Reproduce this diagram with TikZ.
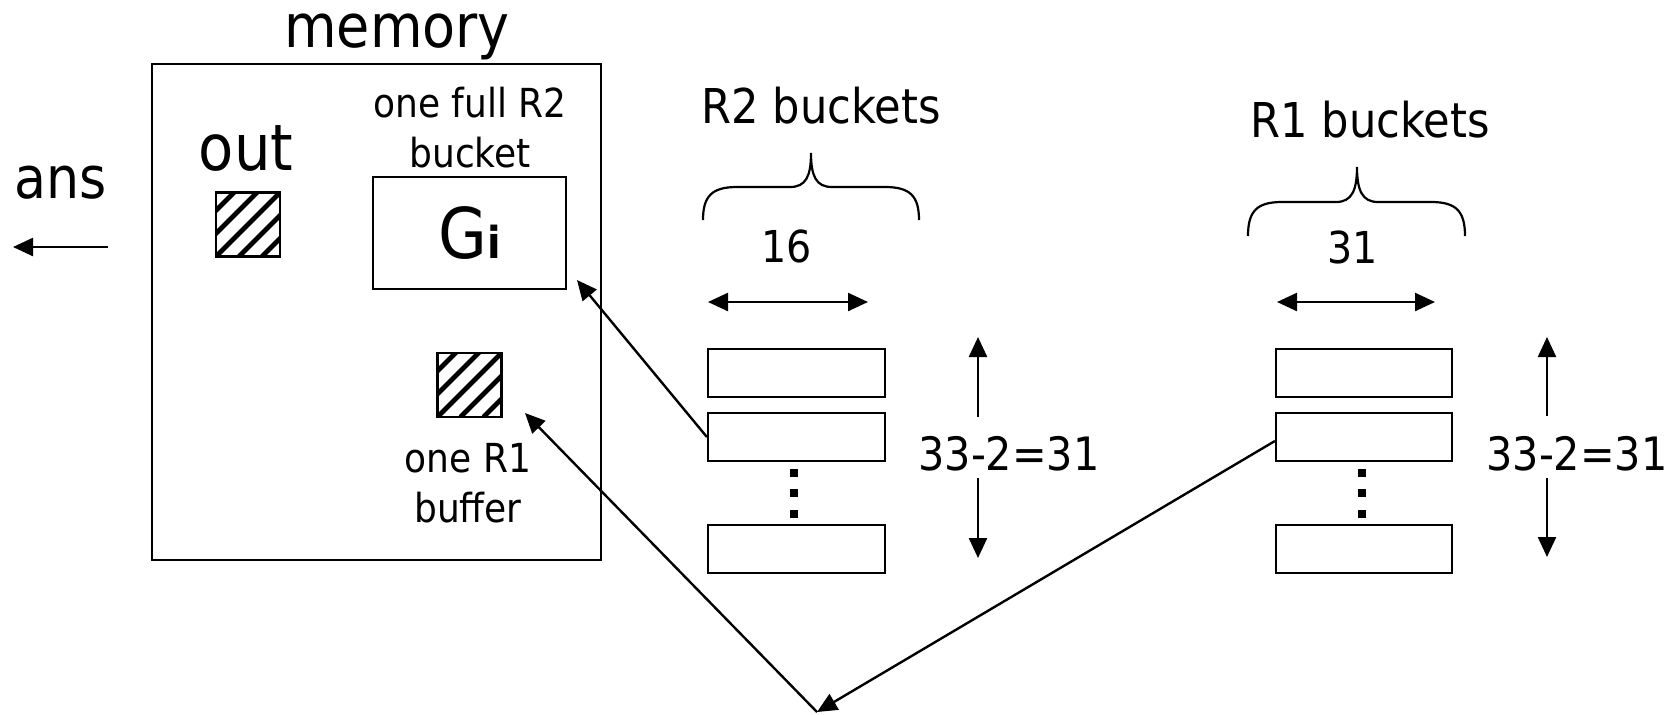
\documentclass[tikz,border=0pt]{standalone}
\usepackage{fontspec}
\setmainfont{DejaVu Sans Condensed}
\usetikzlibrary{arrows.meta}
\tikzset{
  px/.style={x=0.5pt,y=-0.5pt},
  boxline/.style={draw,line width=1.1pt},
  bucket/.style={boxline,rectangle,inner sep=0pt,minimum height=24pt},
  hatch/.style={boxline,rectangle,inner sep=0pt,minimum size=32pt,
    path picture={
      \foreach \c in {-69,-46,...,70}
        \draw[line width=2.4pt] ([xshift=\c*0.5pt]path picture bounding box.south west) -- ++(100,-100);
    }},
  lbl/.style={inner sep=0pt,anchor=base},
  arr/.style={line width=1.2pt,-{Triangle[length=10pt,width=9pt]}},
  darr/.style={line width=1.2pt,{Triangle[length=10pt,width=9pt]}-{Triangle[length=10pt,width=9pt]}},
  dotsq/.style={fill=black,inner sep=0pt,minimum size=4.2pt},
  brace/.style={line width=1.1pt}
}
\newcommand{\fs}[1]{\fontsize{#1}{#1}\selectfont}
\begin{document}
\begin{tikzpicture}[px]
\useasboundingbox (0,0) rectangle (1678,714);
% memory
\node[boxline,rectangle,inner sep=0pt,minimum width=224.5pt,minimum height=248pt] (mem) at (376.5,312) {};
\node[lbl] (memlbl) at (397,47) {\fs{30pt}memory};
\node[lbl] (outlbl) at (246,170) {\fs{32pt}out};
\node[hatch] (out) at (248,224.5) {};
\node[lbl] (full1) at (470,117) {\fs{20pt}one full R2};
\node[lbl] (full2) at (470,167) {\fs{20pt}bucket};
\node[boxline,rectangle,inner sep=0pt,minimum width=96.5pt,minimum height=56pt] (gi) at (469.5,233) {};
\node[lbl] (gilbl) at (470,258) {\fs{35pt}G{\bfseries\fs{22pt}i}};
\node[hatch] (r1buf) at (469.5,385) {};
\node[lbl] (buf1) at (468,472) {\fs{20pt}one R1};
\node[lbl] (buf2) at (468,522) {\fs{20pt}buffer};
% ans
\node[lbl] (ans) at (61,198) {\fs{29pt}ans};
\coordinate (ansR) at (108,247);
\coordinate (ansL) at (13,247);
\draw[arr] (ansR) -- (ansL);
% R2 buckets
\node[lbl] (r2lbl) at (821,123) {\fs{24pt}R2 buckets};
\draw[brace] (703,220) .. controls (703,196) and (712,187) .. (737,187) -- (790,187)
  .. controls (806,187) and (811,176) .. (811,153)
  .. controls (811,176) and (816,187) .. (832,187) -- (885,187)
  .. controls (910,187) and (919,196) .. (919,220);
\node[lbl] (r2w) at (787,262) {\fs{22pt}16};
\coordinate (r2wl) at (708,302);
\coordinate (r2wr) at (868,302);
\draw[darr] (r2wl) -- (r2wr);
\node[bucket,minimum width=88.5pt] (r2a) at (796.5,373) {};
\node[bucket,minimum width=88.5pt] (r2b) at (796.5,437) {};
\node[bucket,minimum width=88.5pt] (r2c) at (796.5,549) {};
\node[dotsq] (r2d1) at (794,473) {};
\node[dotsq] (r2d2) at (794,493) {};
\node[dotsq] (r2d3) at (794,514) {};
\node[lbl] (r2h) at (1009,470) {\fs{23pt}33-2=31};
\coordinate (r2u0) at (978,417);
\coordinate (r2u1) at (978,337);
\coordinate (r2d0) at (978,478);
\coordinate (r2dd) at (978,558);
\draw[arr] (r2u0) -- (r2u1);
\draw[arr] (r2d0) -- (r2dd);
% R1 buckets
\node[lbl] (r1lbl) at (1370,137) {\fs{24pt}R1 buckets};
\draw[brace] (1248,236) .. controls (1248,211) and (1257,202) .. (1282,202) -- (1336,202)
  .. controls (1352,202) and (1357,190) .. (1357,167)
  .. controls (1357,190) and (1362,202) .. (1378,202) -- (1431,202)
  .. controls (1456,202) and (1465,211) .. (1465,236);
\node[lbl] (r1w) at (1353,263) {\fs{22pt}31};
\coordinate (r1wl) at (1277,302);
\coordinate (r1wr) at (1435,302);
\draw[darr] (r1wl) -- (r1wr);
\node[bucket,minimum width=88pt] (r1a) at (1364,373) {};
\node[bucket,minimum width=88pt] (r1b) at (1364,437) {};
\node[bucket,minimum width=88pt] (r1c) at (1364,549) {};
\node[dotsq] (r1d1) at (1362,473) {};
\node[dotsq] (r1d2) at (1362,493) {};
\node[dotsq] (r1d3) at (1362,514) {};
\node[lbl] (r1h) at (1577,470) {\fs{23pt}33-2=31};
\coordinate (r1u0) at (1547,416);
\coordinate (r1u1) at (1547,337);
\coordinate (r1d0) at (1547,478);
\coordinate (r1dd) at (1547,557);
\draw[arr] (r1u0) -- (r1u1);
\draw[arr] (r1d0) -- (r1dd);
% connectors
\coordinate (gitip) at (577,280);
\coordinate (buftip) at (525,413);
\coordinate (bottom) at (817,712);
\draw[arr] (r2b.west) -- (gitip);
\draw[arr] ([yshift=-2pt]r1b.west) -- (bottom);
\draw[arr] (bottom) -- (buftip);
\end{tikzpicture}
\end{document}
